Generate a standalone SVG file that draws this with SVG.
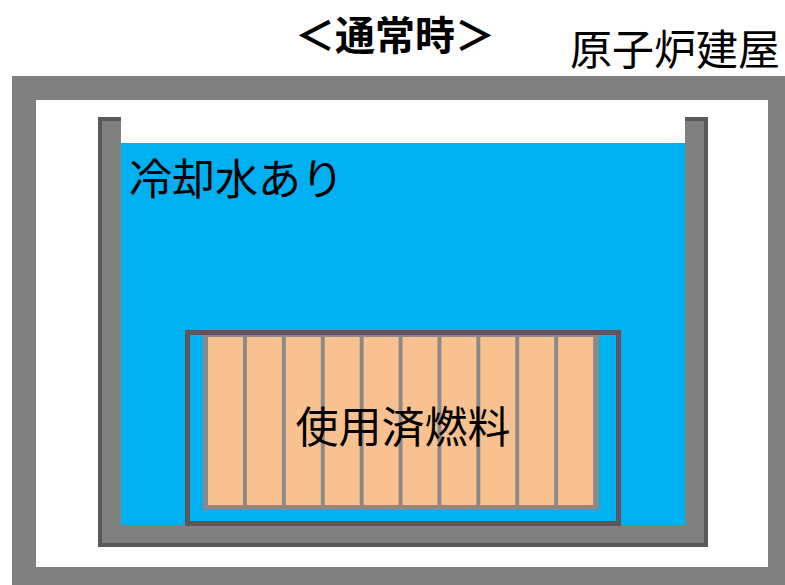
<svg xmlns="http://www.w3.org/2000/svg" width="785" height="585" viewBox="0 0 785 585">
<style>
.t{font-family:"Noto Sans CJK JP","Noto Sans CJK SC",sans-serif;fill:#000}
.rod{fill:#F8C18F}
</style>
<rect width="785" height="585" fill="#fff"/>
<g id="building">
<rect x="12" y="76" width="790" height="530" fill="#808080"/>
<rect x="36" y="100" width="732" height="467" fill="#fff"/>
<text class="t" x="675" y="65" font-size="42" text-anchor="middle">原子炉建屋</text>
</g>
<g id="pool">
<rect x="100" y="119" width="606" height="426" fill="#808080" stroke="#595959" stroke-width="4"/>
<rect x="121" y="114" width="564" height="30" fill="#fff"/>
<rect x="121" y="143" width="564" height="382" fill="#00B0F0"/>
<text class="t" x="129" y="195" font-size="43">冷却水あり</text>
</g>
<g id="rack">
<rect x="187.5" y="332.5" width="431" height="191" fill="#00B0F0" stroke="#595959" stroke-width="5"/>
<rect x="203" y="335" width="396" height="175" fill="#898989"/>
<rect class="rod" x="208" y="337" width="35" height="168"/>
<rect class="rod" x="246.9" y="337" width="35" height="168"/>
<rect class="rod" x="285.8" y="337" width="35" height="168"/>
<rect class="rod" x="324.7" y="337" width="35" height="168"/>
<rect class="rod" x="363.6" y="337" width="35" height="168"/>
<rect class="rod" x="402.5" y="337" width="35" height="168"/>
<rect class="rod" x="441.4" y="337" width="35" height="168"/>
<rect class="rod" x="480.3" y="337" width="35" height="168"/>
<rect class="rod" x="519.2" y="337" width="35" height="168"/>
<rect class="rod" x="558.1" y="337" width="35" height="168"/>
<text class="t" x="403" y="443" font-size="43" text-anchor="middle">使用済燃料</text>
</g>
<g id="title">
<text class="t" x="395" y="50" font-size="40" font-weight="bold" text-anchor="middle">＜通常時＞</text>
</g>
<g id="connectors"/>
</svg>
